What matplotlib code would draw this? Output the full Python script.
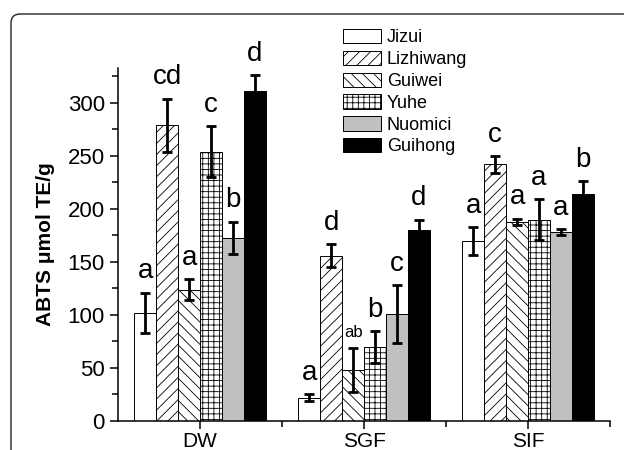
import numpy as np
import matplotlib
matplotlib.use("Agg")
import matplotlib.pyplot as plt
from matplotlib.patches import FancyBboxPatch
from matplotlib.ticker import MultipleLocator
from matplotlib.transforms import IdentityTransform

plt.rcParams["font.family"] = ["Liberation Sans", "DejaVu Sans"]
plt.rcParams["hatch.linewidth"] = 0.6

# ── Data ─────────────────────────────────────────────────────────────────────
groups = ["DW", "SGF", "SIF"]
cultivars = ["Jizui", "Lizhiwang", "Guiwei", "Yuhe", "Nuomici", "Guihong"]

means = {
    "Jizui":     [102, 22, 170],
    "Lizhiwang": [279, 156, 242],
    "Guiwei":    [124, 48, 188],
    "Yuhe":      [254, 70, 190],
    "Nuomici":   [173, 101, 178],
    "Guihong":   [311, 180, 214],
}
errors = {
    "Jizui":     [19, 3.5, 13],
    "Lizhiwang": [25, 11, 8],
    "Guiwei":    [10, 21, 3],
    "Yuhe":      [24, 15, 19],
    "Nuomici":   [15, 27, 3],
    "Guihong":   [15, 10, 12],
}
letters = {
    "Jizui":     ["a", "a", "a"],
    "Lizhiwang": ["cd", "d", "c"],
    "Guiwei":    ["a", "ab", "a"],
    "Yuhe":      ["c", "b", "a"],
    "Nuomici":   ["b", "c", "a"],
    "Guihong":   ["d", "d", "b"],
}

# ── Styles ───────────────────────────────────────────────────────────────────
styles = {
    "Jizui":     dict(color="white", hatch=None),
    "Lizhiwang": dict(color="white", hatch="///"),
    "Guiwei":    dict(color="white", hatch="\\\\\\"),
    "Yuhe":      dict(color="white", hatch="+++"),
    "Nuomici":   dict(color="#c0c0c0", hatch=None),
    "Guihong":   dict(color="black", hatch=None),
}

fig = plt.figure(figsize=(6.24, 4.5), dpi=100)
ax = fig.add_axes([118 / 624, 1 - 421 / 450, (610 - 118) / 624, (421 - 68) / 450])

x = np.arange(1, len(groups) + 1)
width = 0.8 / len(cultivars)

for i, name in enumerate(cultivars):
    pos = x - 0.4 + width * (i + 0.5)
    st = styles[name]
    ax.bar(pos, means[name], width, color=st["color"], hatch=st["hatch"],
           edgecolor="black", linewidth=0.7, label=name, zorder=2)
    ax.errorbar(pos, means[name], yerr=errors[name], fmt="none", ecolor="black",
                elinewidth=2, capsize=3.5, capthick=2, zorder=3)
    for px, m, e, lab in zip(pos, means[name], errors[name], letters[name]):
        fs = 12 if lab == "ab" else 20
        ax.annotate(lab, (px, m + e), xytext=(0, 6), textcoords="offset points",
                    ha="center", va="bottom", fontsize=fs)

ax.set_xlim(0.5, 3.5)
ax.set_ylim(0, 333)
ax.set_xticks(x)
ax.set_xticklabels(groups, fontsize=15)
ax.set_xticks([1.5, 2.5, 3.5], minor=True)
ax.yaxis.set_major_locator(MultipleLocator(50))
ax.yaxis.set_minor_locator(MultipleLocator(25))
ax.tick_params(axis="y", labelsize=16)
ax.tick_params(axis="x", pad=2)
ax.tick_params(which="major", direction="out", length=6, width=1.1)
ax.tick_params(which="minor", direction="out", length=4, width=1.1)
ax.set_ylabel("ABTS μmol TE/g", fontsize=15, fontweight="bold", labelpad=9)

for side in ("top", "right"):
    ax.spines[side].set_visible(False)
for side in ("left", "bottom"):
    ax.spines[side].set_linewidth(1.1)

ax.legend(loc="upper left", bbox_to_anchor=(343 / 624, 1 - 29 / 450),
          bbox_transform=fig.transFigure, frameon=False, fontsize=13,
          handlelength=2.1, handleheight=0.85, handletextpad=0.33,
          labelspacing=0.24, borderpad=0, borderaxespad=0)

# rounded frame round the figure (open to right and bottom)
frame = FancyBboxPatch((11, -60), 700, 450 - 14 + 60,
                       boxstyle="round,pad=0,rounding_size=9",
                       transform=IdentityTransform(), fill=False,
                       edgecolor="#222222", linewidth=1.0)
fig.patches.append(frame)

fig.savefig("out.png", dpi=100)
